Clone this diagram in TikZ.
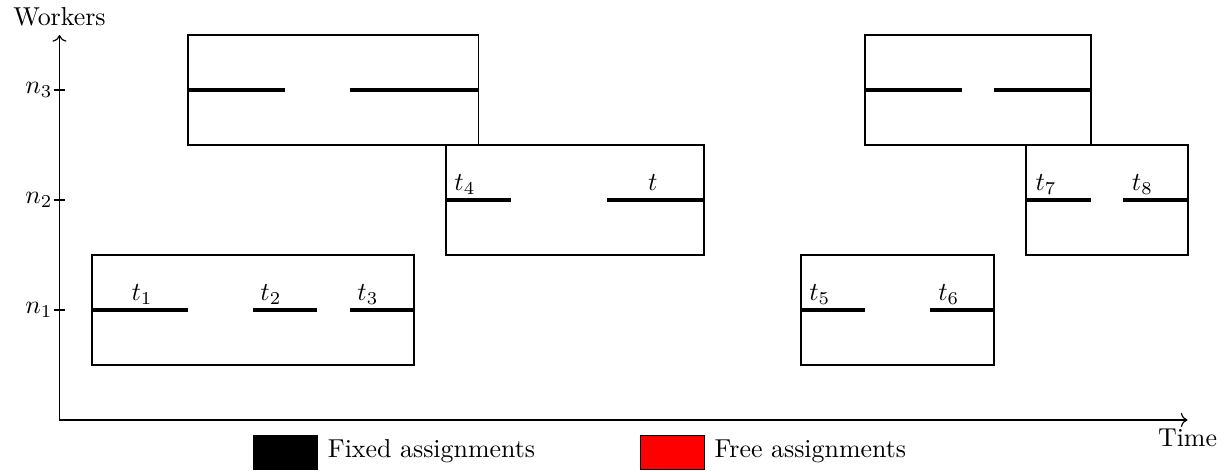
\documentclass[tikz,border=0pt]{standalone}
\usetikzlibrary{arrows.meta}
\begin{document}
\begin{tikzpicture}[x=12.444pt, y=42.47pt,
  jobbox/.style={draw, line width=0.75pt},
  taskline/.style={line width=1.3pt},
  tlab/.style={anchor=base, inner sep=0pt},
  axisline/.style={line width=0.45pt},
  ylab/.style={anchor=east, inner sep=0pt},
  legbox/.style={draw, line width=0.4pt, minimum width=24.9pt, minimum height=13.2pt, inner sep=0pt, anchor=north west},
  legtext/.style={anchor=base west, inner sep=0pt}]
\useasboundingbox (-1.846,-0.4636) rectangle (36.348,3.818);
% axes
\coordinate (O) at (0,0);
\coordinate (ytop) at (0,3.5);
\coordinate (xend) at (35,0);
\draw[axisline,->] (O) -- (ytop) node[above] (ylabel) {Workers};
\draw[axisline,->] (O) -- (xend) node[below] (xlabel) {Time};
% ticks and labels
\foreach \v/\n in {1/1,2/2,3/3}{
  \draw[axisline] (-0.18,\v) -- (0.18,\v);
  \node[ylab] (n\n) at (-0.20,\v) {$n_{\n}$};
}
% boxes
\draw[jobbox] (4,2.5) rectangle (13,3.5);
\draw[jobbox] (12,1.5) rectangle (20,2.5);
\draw[jobbox] (1,0.5) rectangle (11,1.5);
\draw[jobbox] (25,2.5) rectangle (32,3.5);
\draw[jobbox] (30,1.5) rectangle (35,2.5);
\draw[jobbox] (23,0.5) rectangle (29,1.5);
% task lines
\draw[taskline] (4,3) -- (7,3);
\draw[taskline] (9,3) -- (13,3);
\draw[taskline] (12,2) -- (14,2);
\draw[taskline] (17,2) -- (20,2);
\draw[taskline] (1,1) -- (4,1);
\draw[taskline] (6,1) -- (8,1);
\draw[taskline] (9,1) -- (11,1);
\draw[taskline] (25,3) -- (28,3);
\draw[taskline] (29,3) -- (32,3);
\draw[taskline] (30,2) -- (32,2);
\draw[taskline] (33,2) -- (35,2);
\draw[taskline] (23,1) -- (25,1);
\draw[taskline] (27,1) -- (29,1);
% task labels
\node[tlab] (t1) at (2.56,1.087) {$t_1$};
\node[tlab] (t2) at (6.56,1.087) {$t_2$};
\node[tlab] (t3) at (9.57,1.087) {$t_3$};
\node[tlab] (t4) at (12.58,2.087) {$t_4$};
\node[tlab] (t)  at (18.41,2.087) {$t$};
\node[tlab] (t5) at (23.59,1.087) {$t_5$};
\node[tlab] (t6) at (27.59,1.087) {$t_6$};
\node[tlab] (t7) at (30.61,2.087) {$t_7$};
\node[tlab] (t8) at (33.60,2.087) {$t_8$};
% legend
\node[legbox, fill=black] (lfixed) at (6,-0.136) {};
\node[legtext] (lfixedtext) at (8.31,-0.339) {Fixed assignments};
\node[legbox, fill=red] (lfree) at (18,-0.136) {};
\node[legtext] (lfreetext) at (20.31,-0.339) {Free assignments};
\end{tikzpicture}
\end{document}
